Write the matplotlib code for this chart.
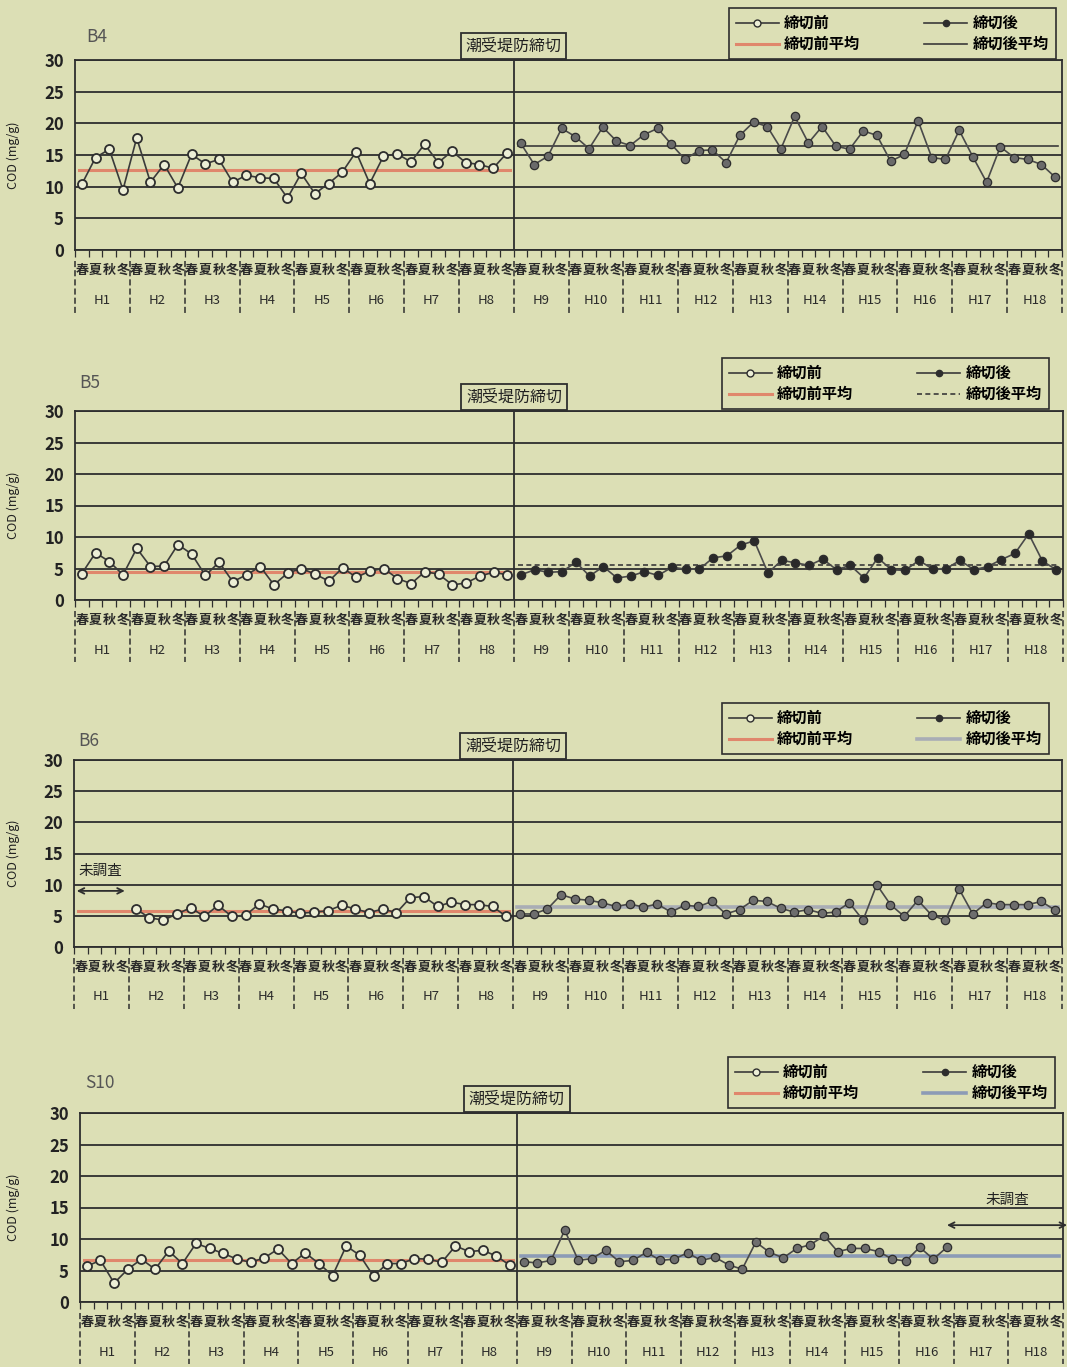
import numpy as np
import matplotlib
matplotlib.use('Agg')
import matplotlib.pyplot as plt
from matplotlib.lines import Line2D
import matplotlib.transforms as mtransforms

plt.rcParams['font.family'] = ['Noto Sans CJK JP', 'DejaVu Sans']

nan = np.nan
years = [f'H{i}' for i in range(1, 19)]
seasons = ['春', '夏', '秋', '冬']
cut_slot = 32  # 潮受堤防締切 between H8 and H9

# ---- data (COD mg/g), one value per season, H1 spring .. H18 winter ----
b4_pre = [10.4, 14.6, 15.9, 9.5, 17.7, 10.7, 13.5, 9.8, 15.1, 13.6, 14.3, 10.7,
          11.8, 11.4, 11.3, 8.2, 12.1, 8.9, 10.5, 12.3, 15.5, 10.5, 14.8, 15.2,
          13.9, 16.7, 13.8, 15.6, 13.8, 13.5, 12.9, 15.3]
b4_post = [16.9, 13.5, 14.8, 19.2, 17.9, 16.0, 19.4, 17.2, 16.5, 18.2,
           19.2, 16.7, 14.3, 15.7, 15.8, 13.8, 18.1, 20.2, 19.5, 16.0,
           21.1, 16.9, 19.5, 16.4, 15.9, 18.8, 18.1, 14.0, 15.1, 20.4,
           14.6, 14.3, 18.9, 14.7, 10.7, 16.3, 14.6, 14.3, 13.5, 11.5]
b4_avg = [12.7, 16.4]

b5_pre = [4.2, 7.5, 6.1, 4.0, 8.2, 5.3, 5.4, 8.8, 7.3, 3.9, 6.0, 2.9,
          4.0, 5.3, 2.4, 4.3, 5.0, 4.1, 3.0, 5.1, 3.6, 4.6, 5.0, 3.4,
          2.6, 4.5, 4.1, 2.4, 2.7, 3.8, 4.4, 4.0]
b5_post = [4.0, 4.8, 4.4, 4.5, 6.0, 3.8, 5.3, 3.5, 3.8, 4.5,
           3.9, 5.2, 4.9, 4.9, 6.7, 7.0, 8.7, 9.4, 4.3, 6.3,
           5.9, 5.5, 6.5, 4.8, 5.5, 3.5, 6.7, 4.8, 4.7, 6.3,
           4.9, 5.0, 6.3, 4.8, 5.3, 6.4, 7.4, 10.5, 6.2, 4.8]
b5_avg = [4.4, 5.5]

b6_pre = [nan, nan, nan, nan, 6.1, 4.7, 4.3, 5.3, 6.3, 4.9, 6.7, 4.9,
          5.1, 6.9, 6.1, 5.8, 5.4, 5.6, 5.8, 6.7, 6.1, 5.5, 6.1, 5.5,
          7.9, 8.1, 6.5, 7.2, 6.8, 6.8, 6.5, 4.9]
b6_post = [5.3, 5.3, 6.1, 8.4, 7.7, 7.5, 7.1, 6.5, 6.9, 6.4,
           6.9, 5.6, 6.7, 6.5, 7.3, 5.3, 6.0, 7.5, 7.3, 6.2,
           5.6, 6.0, 5.4, 5.6, 7.1, 4.3, 10.0, 6.8, 4.9, 7.5,
           5.1, 4.3, 9.3, 5.3, 7.1, 6.8, 6.8, 6.8, 7.3, 5.9]
b6_avg = [5.7, 6.4]

s10_pre = [5.7, 6.6, 3.0, 5.2, 6.8, 5.2, 8.1, 6.1, 9.3, 8.5, 7.7, 6.8,
           6.3, 7.0, 8.4, 6.1, 7.8, 6.1, 4.2, 8.9, 7.4, 4.1, 6.1, 6.1,
           6.9, 6.8, 6.3, 8.9, 8.0, 8.2, 7.3, 5.8]
s10_post = [6.4, 6.2, 6.6, 11.4, 6.6, 6.9, 8.2, 6.4, 6.6, 7.9,
            6.6, 6.8, 7.8, 6.6, 7.1, 5.9, 5.2, 9.5, 7.9, 7.0,
            8.5, 9.1, 10.5, 8.0, 8.5, 8.5, 8.0, 6.8, 6.5, 8.7,
            6.8, 8.7, nan, nan, nan, nan, nan, nan, nan, nan]
s10_avg = [6.6, 7.3]

W, H = 1067, 1367
BG = '#dcdfb5'
DARK = '#2e2e2e'
RED = '#e0876c'
LIGHT = '#eceed6'

panels = [
    dict(name='B4', pre=b4_pre, post=b4_post, avg=b4_avg,
         box=(75, 1062, 60, 250), leg=(729, 8), title_dy=23, title_x=8,
         pavg=dict(color='#3a3a3a', lw=1.2, ls='-'), pcol='#6a6a6a', miss=None),
    dict(name='B5', pre=b5_pre, post=b5_post, avg=b5_avg,
         box=(75, 1063, 411, 600), leg=(722, 358), title_dy=28, title_x=3,
         pavg=dict(color='#3a3a3a', lw=1.2, ls=(0, (3, 2))), pcol='#2a2a2a', miss=None),
    dict(name='B6', pre=b6_pre, post=b6_post, avg=b6_avg,
         box=(74, 1062, 760, 947), leg=(722, 703), title_dy=19, title_x=3,
         pavg=dict(color='#a9adb5', lw=2.6, ls='-'), pcol='#6e6e6e',
         miss=dict(x0=0.2, x1=3.7, ya=9.0, yt=12.2)),
    dict(name='S10', pre=s10_pre, post=s10_post, avg=s10_avg,
         box=(80, 1063, 1113, 1302), leg=(728, 1057), title_dy=30, title_x=4,
         pavg=dict(color='#8c9bb6', lw=2.6, ls='-'), pcol='#6e6e6e',
         miss=dict(x0=63.5, x1=72.3, ya=12.2, yt=16.2)),
]

fig = plt.figure(figsize=(W / 100, H / 100), dpi=100)
fig.patch.set_facecolor(BG)

n_slots = 72
x_pre = np.arange(cut_slot) + 0.5
x_post = np.arange(cut_slot, n_slots) + 0.5

for p in panels:
    l, r, t, b = p['box']
    ax = fig.add_axes([l / W, 1 - b / H, (r - l) / W, (b - t) / H])
    ax.set_facecolor(BG)
    ax.set_xlim(0, n_slots)
    ax.set_ylim(0, 30)
    ax.set_yticks(range(0, 31, 5))
    ax.yaxis.grid(True, color=DARK, lw=1.3)
    ax.set_axisbelow(True)
    for s in ax.spines.values():
        s.set_color(DARK)
        s.set_linewidth(1.3)
    ax.tick_params(axis='y', length=0, pad=8, labelsize=12, labelcolor='#222')
    for lab in ax.get_yticklabels():
        lab.set_fontweight('bold')
    ax.set_xticks(np.arange(0, n_slots + 1))
    ax.set_xticklabels([])
    ax.tick_params(axis='x', direction='out', length=5, width=0.9, color=DARK)
    ax.set_ylabel('COD (mg/g)', fontsize=9, color='#222')
    ax.yaxis.set_label_coords(-(l - 20) / (r - l), 0.5)

    # cutoff line
    ax.axvline(cut_slot, color=DARK, lw=1.3, zorder=2)

    # averages
    pre_valid = x_pre[~np.isnan(np.array(p['pre'], dtype=float))]
    ax.plot([0.3 if p['name'] == 'B6' else pre_valid[0] - 0.2, cut_slot - 0.3],
            [p['avg'][0]] * 2, color=RED, lw=2.2, zorder=3)
    ax.plot([cut_slot + 0.3, n_slots - 0.3], [p['avg'][1]] * 2,
            color=p['pavg']['color'], lw=p['pavg']['lw'], ls=p['pavg']['ls'], zorder=3)

    # data
    ax.plot(x_pre, p['pre'], color='#3a3a3a', lw=1.2, marker='o', ms=6.5,
            mfc=LIGHT, mec=DARK, mew=1.3, zorder=4)
    ax.plot(x_post, p['post'], color='#4a4a4a', lw=1.2, marker='o', ms=6,
            mfc=p['pcol'], mec=DARK, mew=0.9, zorder=4)

    # season & year labels
    blend = mtransforms.blended_transform_factory(ax.transData, ax.transAxes)
    for i in range(n_slots):
        ax.annotate(seasons[i % 4], xy=(i + 0.5, 0), xycoords=blend,
                    xytext=(0, -14.5), textcoords='offset points',
                    ha='center', va='center', fontsize=9.4, color='#2a2a2a',
                    fontweight='bold', annotation_clip=False)
    for k, yl in enumerate(years):
        ax.annotate(yl, xy=(4 * k + 2, 0), xycoords=blend,
                    xytext=(0, -36), textcoords='offset points',
                    ha='center', va='center', fontsize=9.5, color='#2a2a2a',
                    annotation_clip=False)
    for k in range(len(years) + 1):
        ax.add_line(Line2D([4 * k, 4 * k], [-0.06, -0.33], transform=blend,
                           color=DARK, lw=1.1, ls=(0, (4, 2)), clip_on=False))

    # title
    ax.annotate(p['name'], xy=(0, 1), xycoords='axes fraction',
                xytext=(p['title_x'], p['title_dy'] * 0.72), textcoords='offset points',
                ha='left', va='center', fontsize=12.5, color='#555555')

    # 潮受堤防締切 box
    ax.annotate('潮受堤防締切', xy=(cut_slot, 1), xycoords=blend,
                xytext=(0, 4), textcoords='offset points', ha='center', va='bottom',
                fontsize=11.5, color='#222',
                bbox=dict(boxstyle='square,pad=0.3', fc=BG, ec=DARK, lw=1.3))

    # 未調査
    if p['miss']:
        m = p['miss']
        ax.annotate('', xy=(m['x0'], m['ya']), xytext=(m['x1'], m['ya']),
                    arrowprops=dict(arrowstyle='<->', color=DARK, lw=1.3,
                                    shrinkA=0, shrinkB=0),
                    annotation_clip=False)
        ax.text((m['x0'] + m['x1']) / 2, m['yt'], '未調査', ha='center', va='center',
                fontsize=10.5, color='#222')

    # legend
    handles = [
        Line2D([], [], color='#3a3a3a', lw=1.2, marker='o', ms=5, mfc=LIGHT, mec=DARK),
        Line2D([], [], color=RED, lw=2.2),
        Line2D([], [], color='#3a3a3a', lw=1.2, marker='o', ms=4.5, mfc=DARK, mec=DARK),
        Line2D([], [], color=p['pavg']['color'], lw=p['pavg']['lw'], ls=p['pavg']['ls']),
    ]
    labels = ['締切前', '締切前平均', '締切後', '締切後平均']
    lx, ly = p['leg']
    leg = ax.legend(handles, labels, ncol=2, loc='upper left',
                    bbox_to_anchor=(lx / W, 1 - ly / H), bbox_transform=fig.transFigure,
                    fontsize=11, frameon=True, fancybox=False, edgecolor=DARK,
                    facecolor=BG, framealpha=1, borderaxespad=0, handlelength=2.8,
                    handletextpad=0.35, columnspacing=4.2, borderpad=0.45,
                    labelspacing=0.35)
    leg.get_frame().set_linewidth(1.2)
    for txt in leg.get_texts():
        txt.set_fontweight('bold')

fig.savefig('out.png', dpi=100, facecolor=BG)
